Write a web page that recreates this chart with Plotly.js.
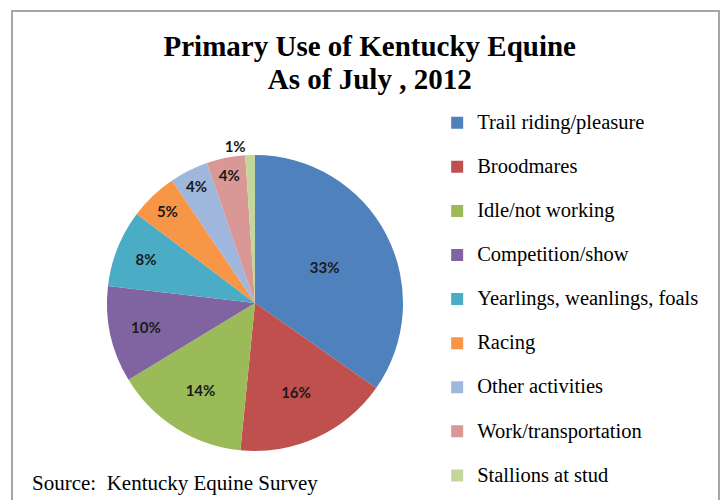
<!DOCTYPE html>
<html>
<head>
<meta charset="utf-8">
<script src="https://cdn.plot.ly/plotly-3.0.1.min.js"></script>
<style>html,body{margin:0;padding:0;background:#fff;}#chart{width:725px;height:500px;}</style>
</head>
<body>
<div id="chart"></div>
<script>
const categories = [
  "Trail riding/pleasure",
  "Broodmares",
  "Idle/not working",
  "Competition/show",
  "Yearlings, weanlings, foals",
  "Racing",
  "Other activities",
  "Work/transportation",
  "Stallions at stud"
];
const percentValues = [33, 16, 14, 10, 8, 5, 4, 4, 1];
const sliceColors = ["#4F81BD", "#C0504D", "#9BBB59", "#8064A2", "#4BACC6", "#F79646", "#9FB6DD", "#D99795", "#C3D69B"];
const labelPositions = ["inside", "inside", "inside", "inside", "inside", "inside", "inside", "inside", "outside"];

// legend entries: larger visible text, extra blank line for row spacing (not on the last row)
const legendLabels = categories.map((c, i) =>
  '<span style="font-size:20.5px">' + c + '</span>' + (i < categories.length - 1 ? '<br> ' : ''));

const labelFont = {family: "Lato, 'Liberation Sans', sans-serif", size: 15, weight: "bold", color: "#1a1a1a"};

const trace = {
  type: "pie",
  labels: legendLabels,
  values: percentValues,
  sort: false,
  direction: "clockwise",
  rotation: 0,
  marker: {colors: sliceColors, line: {width: 0}},
  texttemplate: "%{value}%",
  textposition: labelPositions,
  insidetextorientation: "horizontal",
  textfont: labelFont,
  outsidetextfont: labelFont,
  hoverinfo: "none",
  domain: {x: [0.1476, 0.5559], y: [0.092, 0.696]}
};

const layout = {
  width: 725,
  height: 500,
  margin: {l: 0, r: 0, t: 0, b: 0},
  paper_bgcolor: "#ffffff",
  showlegend: true,
  title: {
    text: '<b><span style="font-size:29px">Primary Use of Kentucky Equine</span><br><span style="font-size:29px">As of July , 2012</span></b>',
    x: 0.51, xanchor: "center",
    y: 0.889, yanchor: "middle",
    font: {family: "'Liberation Serif', 'Times New Roman', serif", size: 25.4, color: "#000"}
  },
  legend: {
    x: 0.603, xanchor: "left",
    y: 0.788, yanchor: "top",
    valign: "top",
    font: {family: "'Liberation Serif', 'Times New Roman', serif", size: 15.8, color: "#000"},
    bgcolor: "rgba(0,0,0,0)"
  },
  annotations: [{
    text: "Source:\u00a0 Kentucky Equine Survey",
    xref: "paper", yref: "paper",
    x: 0.0414, xanchor: "left",
    y: 0.034, yanchor: "middle",
    showarrow: false,
    font: {family: "'Liberation Serif', 'Times New Roman', serif", size: 21, color: "#000"}
  }],
  shapes: [{
    type: "rect", xref: "paper", yref: "paper",
    x0: 12/725, x1: 719/725, y0: 1 - 11/500, y1: -0.1,
    line: {color: "#a6a6a6", width: 2}
  }]
};

Plotly.newPlot("chart", [trace], layout, {displayModeBar: false, staticPlot: true});
</script>
</body>
</html>
